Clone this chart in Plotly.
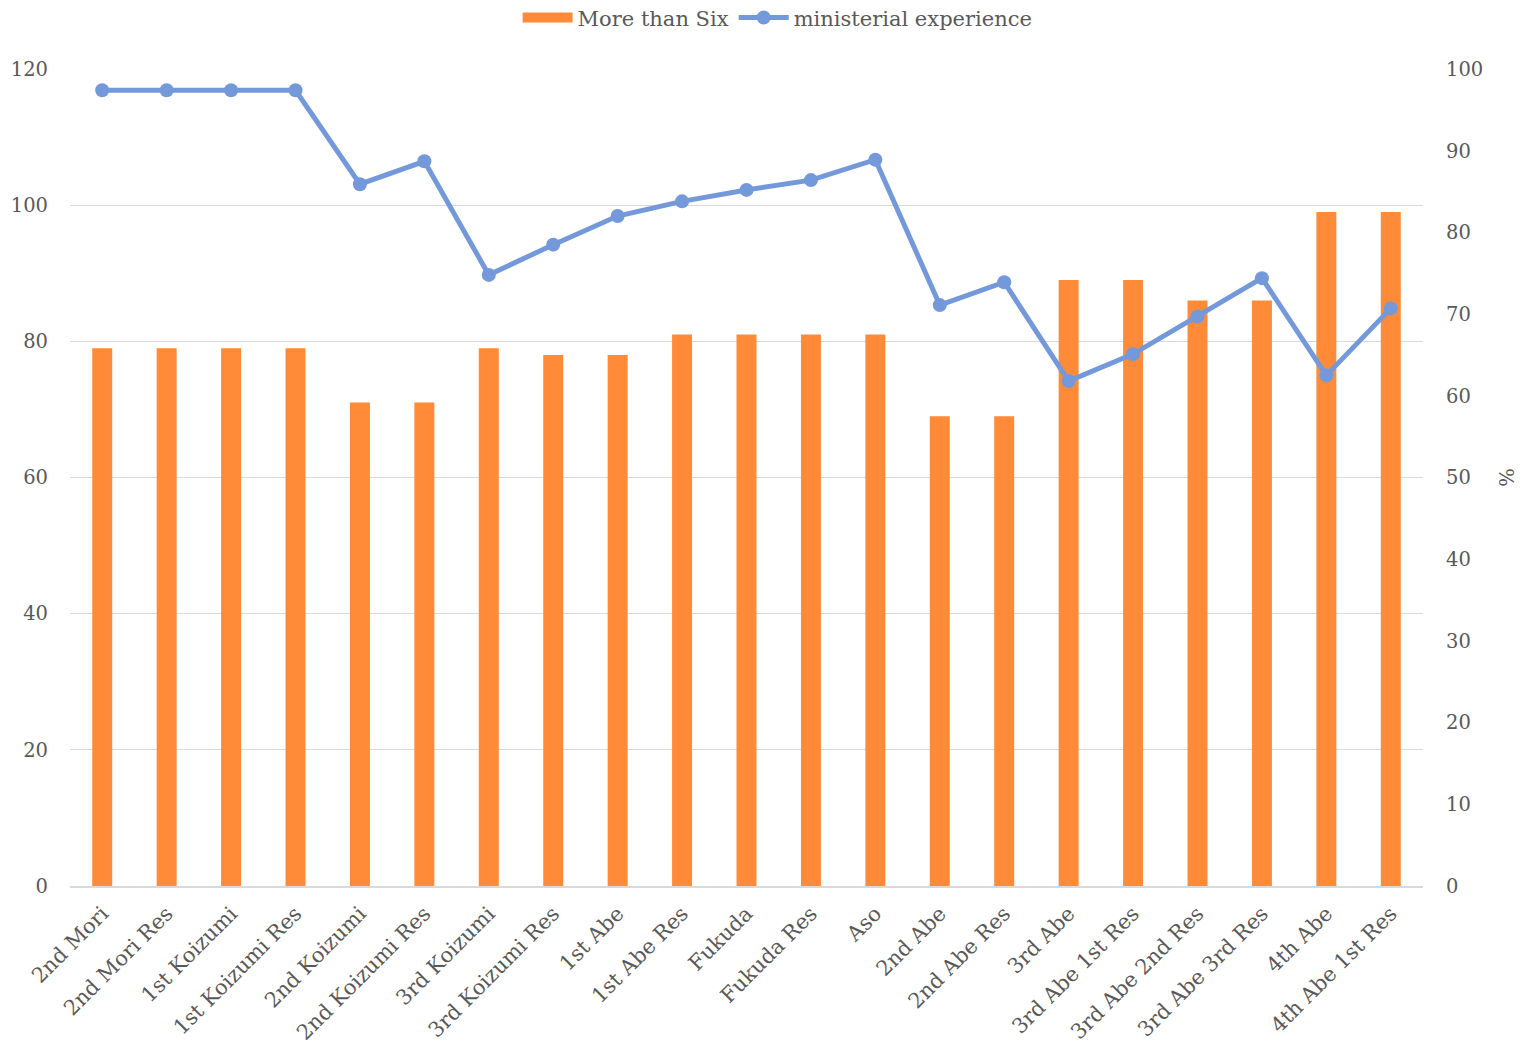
import plotly.graph_objects as go

# Cabinets (original and reshuffles)
cabinets = [
    "2nd Mori", "2nd Mori Res", "1st Koizumi", "1st Koizumi Res", "2nd Koizumi",
    "2nd Koizumi Res", "3rd Koizumi", "3rd Koizumi Res", "1st Abe", "1st Abe Res",
    "Fukuda", "Fukuda Res", "Aso", "2nd Abe", "2nd Abe Res", "3rd Abe",
    "3rd Abe 1st Res", "3rd Abe 2nd Res", "3rd Abe 3rd Res", "4th Abe", "4th Abe 1st Res",
]

# Number of members elected more than six times
more_than_six = [79, 79, 79, 79, 71, 71, 79, 78, 78, 81, 81, 81, 81, 69, 69, 89, 89, 86, 86, 99, 99]

# Share with ministerial experience (%)
ministerial_experience = [97.4, 97.4, 97.4, 97.4, 85.9, 88.7, 74.8, 78.5, 82.0, 83.8,
                          85.2, 86.4, 88.9, 71.1, 73.9, 61.8, 65.1, 69.7, 74.4, 62.5, 70.7]

FONT = "DejaVu Serif"
TEXT = "#595959"
GRID = "#D9D9D9"
ORANGE = "#FF8A38"
BLUE = "#7499DA"
NUM_SIZE = 19.5
LABEL_SIZE = 21

fig = go.Figure()
fig.add_trace(go.Bar(
    x=cabinets, y=more_than_six, name="More than Six",
    marker=dict(color=ORANGE, line=dict(width=0)),
    yaxis="y", legendgroup="six", showlegend=False,
))
# wide flat swatch for the bar series in the legend
fig.add_trace(go.Scatter(
    x=[None], y=[None], name="More than Six", mode="lines",
    line=dict(color=ORANGE, width=12),
    legendgroup="six", showlegend=True, hoverinfo="skip",
))
fig.add_trace(go.Scatter(
    x=cabinets, y=ministerial_experience, name="ministerial experience",
    mode="lines+markers",
    line=dict(color=BLUE, width=5),
    marker=dict(color=BLUE, size=14),
    yaxis="y2",
))

fig.update_layout(
    width=1527, height=1054,
    margin=dict(l=70, r=104, t=69, b=168, autoexpand=False),
    paper_bgcolor="white", plot_bgcolor="white",
    font=dict(family=FONT, color=TEXT, size=NUM_SIZE),
    bargap=0.69,
    showlegend=True,
    legend=dict(orientation="h", x=0.523, xanchor="center",
                yref="container", y=0.983, yanchor="middle",
                font=dict(size=LABEL_SIZE, color=TEXT), itemwidth=50, tracegroupgap=0),
    xaxis=dict(
        type="category", range=[-0.5, len(cabinets) - 0.5],
        tickangle=-45, tickfont=dict(size=LABEL_SIZE, color=TEXT), automargin=False,
        showgrid=False, showline=True, linecolor=GRID, linewidth=2,
        ticks="", ticklabelstandoff=5,
    ),
    yaxis=dict(
        range=[0, 120], dtick=20, showgrid=True, gridcolor=GRID, gridwidth=1.3,
        zeroline=False, showline=False, ticks="", automargin=False,
        tickfont=dict(size=NUM_SIZE, color=TEXT), ticklabelstandoff=21,
    ),
    yaxis2=dict(
        range=[0, 100], dtick=10, overlaying="y", side="right", automargin=False,
        showgrid=False, zeroline=False, showline=False, ticks="",
        tickfont=dict(size=NUM_SIZE, color=TEXT), ticklabelstandoff=22,
        title=dict(text="%", font=dict(size=NUM_SIZE, color=TEXT), standoff=18),
    ),
)

fig.write_html("out.html")
